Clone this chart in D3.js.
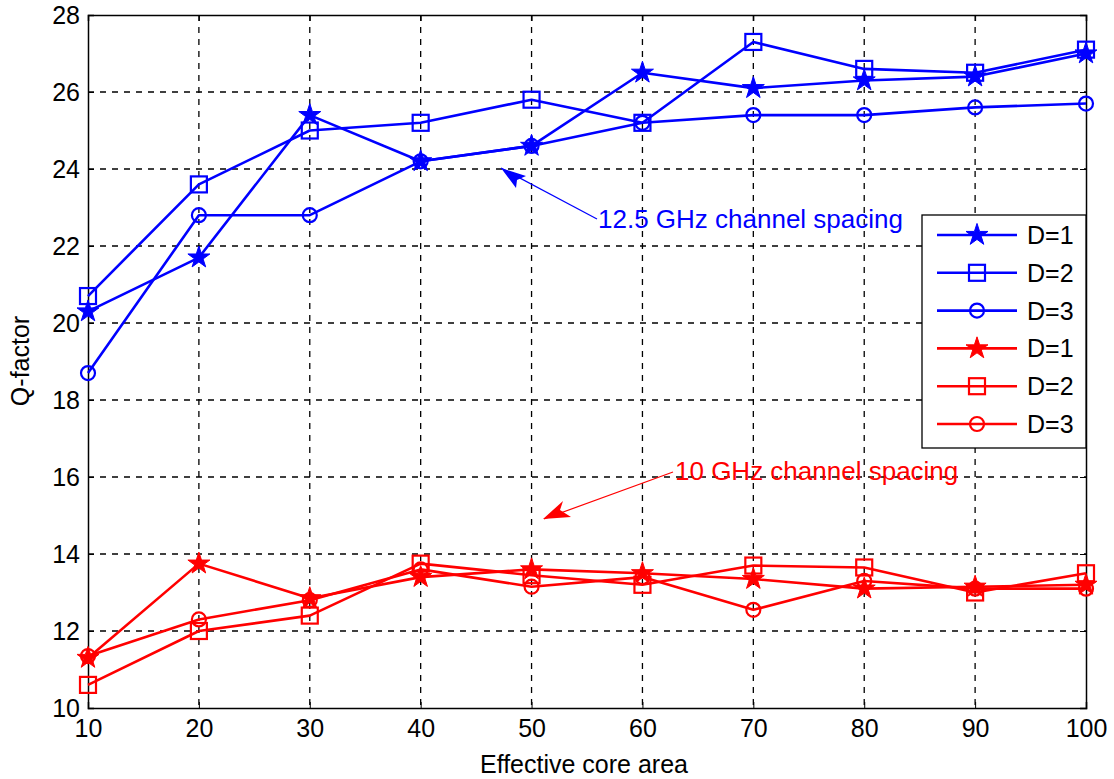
<!DOCTYPE html>
<html><head><meta charset="utf-8">
<script src="https://cdn.jsdelivr.net/npm/d3@7"></script>
<style>body{margin:0;background:#fff}svg{display:block}text{font-family:"Liberation Sans",Arial,sans-serif}</style>
</head><body>
<svg id="c" width="1114" height="779"></svg>
<script>
const xVals = [10,20,30,40,50,60,70,80,90,100];
const xTicks = [10,20,30,40,50,60,70,80,90,100];
const yTicks = [10,12,14,16,18,20,22,24,26,28];
const blueD1 = [20.3,21.7,25.4,24.2,24.6,26.5,26.1,26.3,26.4,27.0];
const blueD2 = [20.7,23.6,25.0,25.2,25.8,25.2,27.3,26.6,26.5,27.1];
const blueD3 = [18.7,22.8,22.8,24.2,24.6,25.2,25.4,25.4,25.6,25.7];
const redD1 = [11.3,13.75,12.85,13.4,13.6,13.5,13.35,13.1,13.15,13.2];
const redD2 = [10.6,12.0,12.4,13.75,13.45,13.2,13.7,13.65,13.0,13.5];
const redD3 = [11.35,12.3,12.8,13.6,13.15,13.4,12.55,13.3,13.1,13.1];
const seriesNames = ["D=1","D=2","D=3","D=1","D=2","D=3"];
const seriesMarkers = ["star","square","circle","star","square","circle"];
const seriesColors = ["#0000ff","#0000ff","#0000ff","#ff0000","#ff0000","#ff0000"];
const seriesData = [blueD1,blueD2,blueD3,redD1,redD2,redD3];

const svg = d3.select("#c");
const L=88,R=1086,T=15,B=708;
const x = d3.scaleLinear().domain([10,100]).range([L,R]);
const y = d3.scaleLinear().domain([10,28]).range([B,T]);

// grid
const g = svg.append("g");
g.selectAll(".vg").data(xTicks.slice(1,-1)).join("line")
  .attr("x1",d=>x(d)).attr("x2",d=>x(d)).attr("y1",T).attr("y2",B)
  .attr("stroke","#000").attr("stroke-width",1.3).attr("stroke-dasharray","6,6");
g.selectAll(".hg").data(yTicks.slice(1,-1)).join("line")
  .attr("y1",d=>y(d)).attr("y2",d=>y(d)).attr("x1",L).attr("x2",R)
  .attr("stroke","#000").attr("stroke-width",1.3).attr("stroke-dasharray","6,6");

// axes
const xa = svg.append("g").attr("transform",`translate(0,${B})`)
  .call(d3.axisBottom(x).tickValues(xTicks).tickSize(-6).tickPadding(11));
const ya = svg.append("g").attr("transform",`translate(${L},0)`)
  .call(d3.axisLeft(y).tickValues(yTicks).tickSize(-6).tickPadding(8));
const xt = svg.append("g").attr("transform",`translate(0,${T})`)
  .call(d3.axisTop(x).tickValues(xTicks).tickSize(-6).tickFormat(""));
const yr = svg.append("g").attr("transform",`translate(${R},0)`)
  .call(d3.axisRight(y).tickValues(yTicks).tickSize(-6).tickFormat(""));
[xa,ya,xt,yr].forEach(a=>{
  a.select(".domain").attr("stroke","#000").attr("stroke-width",1.5);
  a.selectAll(".tick line").attr("stroke","#000");
  a.selectAll("text").attr("font-size",25).attr("fill","#000").style("font-family","'Liberation Sans',Arial,sans-serif");
});

// series
const line = d3.line().x((d,i)=>x(xVals[i])).y(d=>y(d));
function drawMarker(sel, type, color){
  if(type==="star"){
    sel.append("path").attr("d",d3.symbol(d3.symbolStar,150)())
      .attr("fill",color).attr("stroke",color).attr("stroke-width",1);
  } else if(type==="square"){
    sel.append("rect").attr("x",-8).attr("y",-8).attr("width",16).attr("height",16)
      .attr("fill","none").attr("stroke",color).attr("stroke-width",2.2);
  } else {
    sel.append("circle").attr("r",7).attr("fill","none").attr("stroke",color).attr("stroke-width",2.2);
  }
}
seriesData.forEach((data,k)=>{
  const sg = svg.append("g");
  sg.append("path").datum(data).attr("d",line).attr("fill","none")
    .attr("stroke",seriesColors[k]).attr("stroke-width",2.6).attr("stroke-linejoin","round");
  sg.selectAll(".m").data(data).join("g")
    .attr("transform",(d,i)=>`translate(${x(xVals[i])},${y(d)})`)
    .each(function(){ drawMarker(d3.select(this), seriesMarkers[k], seriesColors[k]); });
});

// annotations
svg.append("line").attr("x1",597).attr("y1",219).attr("x2",501).attr("y2",168)
  .attr("stroke","#0000ff").attr("stroke-width",1.2);
svg.append("path").attr("d","M501,168 L526,176 L517,180 L516,188 Z").attr("fill","#0000ff");
svg.append("text").attr("x",598).attr("y",228).attr("font-size",26).attr("fill","#0000ff")
  .text("12.5 GHz channel spacing");
svg.append("line").attr("x1",673).attr("y1",472).attr("x2",544).attr("y2",519)
  .attr("stroke","#ff0000").attr("stroke-width",1.2);
svg.append("path").attr("d","M543,519 L563,501 L560,510 L571,517 Z").attr("fill","#ff0000");
svg.append("text").attr("x",675).attr("y",480).attr("font-size",26).attr("fill","#ff0000")
  .text("10 GHz channel spacing");

// legend
const lg = svg.append("g");
lg.append("rect").attr("x",922).attr("y",215).attr("width",R-922).attr("height",233)
  .attr("fill","#fff").attr("stroke","#000").attr("stroke-width",1.3);
seriesNames.forEach((n,k)=>{
  const yy = 235 + k*37.8;
  lg.append("line").attr("x1",937).attr("x2",1017).attr("y1",yy).attr("y2",yy)
    .attr("stroke",seriesColors[k]).attr("stroke-width",2.6);
  const mg = lg.append("g").attr("transform",`translate(977,${yy})`);
  drawMarker(mg, seriesMarkers[k], seriesColors[k]);
  lg.append("text").attr("x",1027).attr("y",yy+9).attr("font-size",25).attr("fill","#000").text(n);
});

// axis labels
svg.append("text").attr("x",584).attr("y",773).attr("text-anchor","middle").attr("font-size",25).text("Effective core area");
svg.append("text").attr("transform","translate(29,361) rotate(-90)").attr("text-anchor","middle").attr("font-size",25).text("Q-factor");
</script>
</body></html>
